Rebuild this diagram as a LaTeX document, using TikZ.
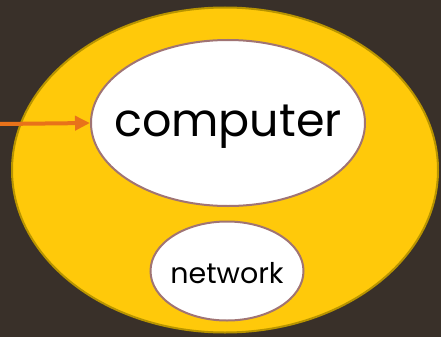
\documentclass[tikz,border=0pt]{standalone}
\usepackage{fontspec}
\setmainfont{Poppins}
\usetikzlibrary{arrows.meta, shapes.geometric, positioning}

\definecolor{slide}{HTML}{393029}
\definecolor{sun}{HTML}{FFC90A}
\definecolor{sunedge}{HTML}{B89400}
\definecolor{mauve}{HTML}{A07474}
\definecolor{pointer}{HTML}{E8721A}

\begin{document}
\begin{tikzpicture}[
        x=1pt, y=-1pt, >={Triangle[length=15pt,width=14pt]},
        every node/.style={ellipse, inner sep=0pt},
        layer/.style={fill=white, draw=mauve, line width=2pt},
        ]
        \fill[slide] (0,0) rectangle (441,337);
        \useasboundingbox (0,0) rectangle (441,337);

        % outer world and the two layers inside it
        \node[fill=sun, draw=sunedge, line width=2pt,
              minimum width=426pt, minimum height=325pt] (world) at (225,170) {};
        \node[layer, minimum width=274pt, minimum height=166pt,
              label={[font=\fontsize{46}{46}\selectfont, yshift=-4pt]center:computer}]
              (computer) at (228,123) {};
        \node[layer, minimum width=153pt, minimum height=99pt,
              label={[font=\fontsize{28.5}{28.5}\selectfont, yshift=-2pt]center:network}]
              (network) at (227,271) {};

        \coordinate (user) at (0,124);
        \draw[->, pointer, line width=4pt] (user) -- (computer.west);
\end{tikzpicture}
\end{document}
